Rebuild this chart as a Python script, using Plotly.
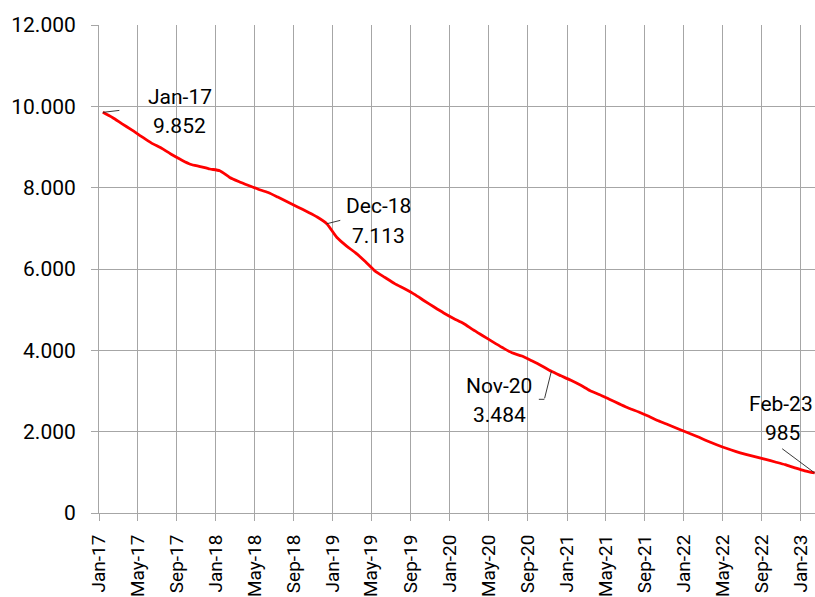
import pandas as pd
import plotly.graph_objects as go

# Monthly series, Jan-17 .. Feb-23
start_month = "2017-01"
n_months = 74
values = [
    9852, 9720, 9575, 9420, 9261, 9101, 8980, 8828, 8693, 8577, 8520, 8459,
    8417, 8252, 8152, 8053, 7962, 7881, 7768, 7645, 7525, 7407, 7279, 7113,
    6780, 6563, 6396, 6177, 5948, 5791, 5641, 5513, 5375, 5220, 5065, 4920,
    4785, 4660, 4510, 4360, 4215, 4070, 3939, 3861, 3743, 3622, 3484, 3374,
    3263, 3140, 3012, 2907, 2796, 2683, 2577, 2484, 2378, 2267, 2169, 2073,
    1975, 1874, 1778, 1680, 1591, 1510, 1443, 1380, 1318, 1254, 1188, 1111,
    1038, 985,
]

# Months that carry a callout
callouts = ["Jan-17", "Dec-18", "Nov-20", "Feb-23"]

# y tick values
y_ticks = [0, 2000, 4000, 6000, 8000, 10000, 12000]

# Each monthly value is plotted a little into its month
month_starts = pd.date_range(start_month, periods=n_months, freq="MS")
dates = month_starts + pd.Timedelta(days=12)
month_names = [d.strftime("%b-%y") for d in month_starts]

FONT = "Roboto"
GRID = "#a6a6a6"

fig = go.Figure()
fig.add_trace(go.Scatter(
    x=dates, y=values, mode="lines",
    line=dict(color="#ff0000", width=2.8, shape="spline", smoothing=0.6),
    hoverinfo="skip", showlegend=False,
))

# Text placement for each callout (pixel shifts from the point): month line, value line
text_shift = {
    "Jan-17": ((77, 15.4), (76.5, -13.6)),
    "Dec-18": ((52, 17.7), (52, -11.8)),
    "Nov-20": ((-52, -14.7), (-52, -43.7)),
    "Feb-23": ((-33.5, 68.9), (-32.5, 40.4)),
}
# Leader line segments: list of (xshift, yshift, ax, ay)
leaders = {
    "Jan-17": [(0, 0, 17, -2)],
    "Dec-18": [(0, 0, 14, -3.5)],
    "Nov-20": [(0, 0, -7, 28), (-7, -28, -6, 0)],
    "Feb-23": [(0, 0, -33, -24.6)],
}

annotations = []
for name in callouts:
    i = month_names.index(name)
    x, v = dates[i], values[i]
    vtxt = f"{v:,}".replace(",", ".")
    (mx, my), (vx, vy) = text_shift[name]
    for txt, xs, ys in ((name, mx, my), (vtxt, vx, vy)):
        annotations.append(dict(
            x=x, y=v, xref="x", yref="y", text=txt, showarrow=False,
            xshift=xs, yshift=ys, xanchor="center", yanchor="middle",
            font=dict(family=FONT, size=21, color="#000000"),
        ))
    for xs, ys, ax, ay in leaders[name]:
        annotations.append(dict(
            x=x, y=v, xref="x", yref="y", text=" ", showarrow=True,
            arrowhead=0, arrowwidth=0.9, arrowcolor="#222222",
            ax=ax, ay=ay, xshift=xs, yshift=ys, borderpad=0,
            font=dict(size=1),
        ))

fig.update_layout(
    width=815, height=597,
    margin=dict(l=99, r=0, t=25, b=84, autoexpand=False),
    paper_bgcolor="white", plot_bgcolor="white",
    separators=",.",
    font=dict(family=FONT, size=21, color="#000000"),
    annotations=annotations,
)

fig.update_xaxes(
    type="date", automargin=False,
    range=["2017-01-01", "2023-02-14"],
    tick0="2017-01-01", dtick="M4", tickformat="%b-%y",
    tickangle=-90, ticklabelstandoff=6,
    tickfont=dict(family=FONT, size=19, color="#000000"),
    ticks="outside", ticklen=7, tickcolor=GRID, tickwidth=1,
    showgrid=True, gridcolor=GRID, gridwidth=1,
    showline=True, linecolor=GRID, linewidth=1,
    zeroline=False,
)
fig.update_yaxes(
    range=[0, 12000], automargin=False,
    tickvals=y_ticks, tickformat=",d", ticklabelstandoff=11,
    tickfont=dict(family=FONT, size=21, color="#000000"),
    ticks="outside", ticklen=7, tickcolor=GRID, tickwidth=1,
    showgrid=True, gridcolor=GRID, gridwidth=1,
    showline=True, linecolor=GRID, linewidth=1,
    zeroline=False,
)

fig.write_html("out.html")
